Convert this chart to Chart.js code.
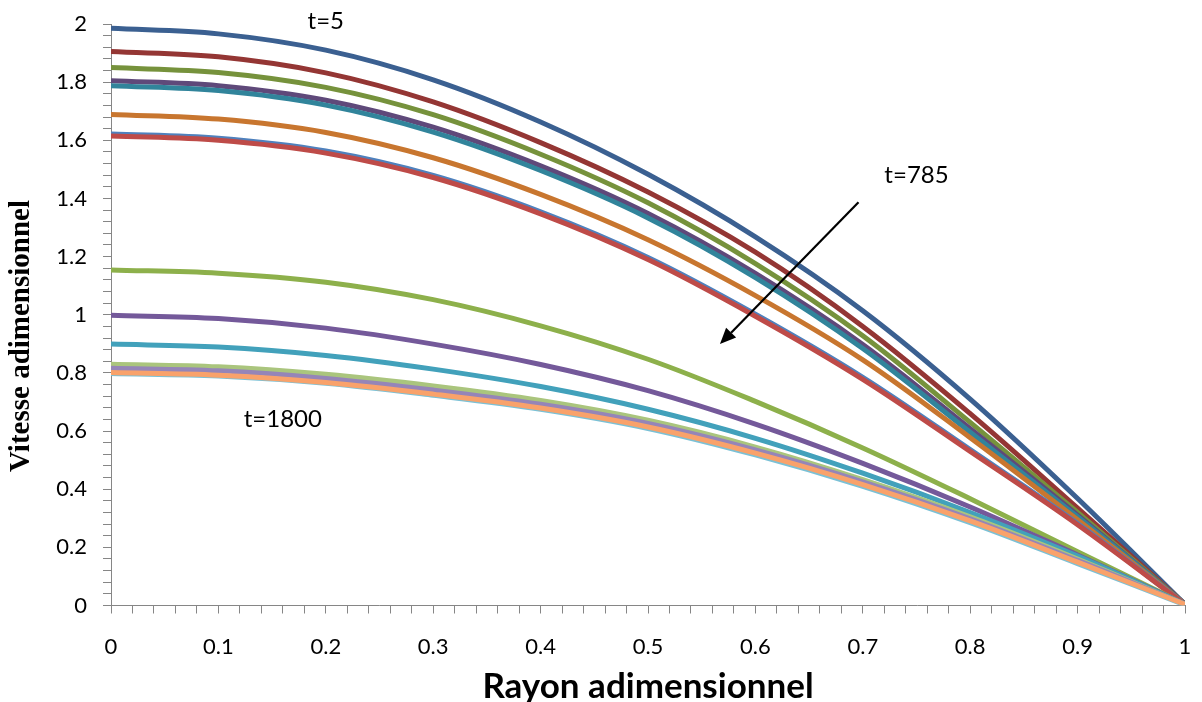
<!DOCTYPE html>
<html>
<head>
<meta charset="utf-8">
<script src="https://cdn.jsdelivr.net/npm/chart.js@4.4.0/dist/chart.umd.min.js"></script>
<style>
html,body{margin:0;padding:0;background:#fff;overflow:hidden}
#wrap{width:1202px;height:702px}
</style>
</head>
<body>
<div id="wrap"><canvas id="c" width="1202" height="702"></canvas></div>
<script>
// ---- data ----
const radius = [0, 0.1, 0.2, 0.3, 0.4, 0.5, 0.6, 0.7, 0.8, 0.9, 1];

const s01 = [1.985, 1.966, 1.910, 1.808, 1.663, 1.483, 1.268, 1.014, 0.710, 0.368, 0.004];
const s02 = [1.905, 1.887, 1.832, 1.732, 1.592, 1.422, 1.215, 0.960, 0.660, 0.335, 0.004];
const s03 = [1.850, 1.833, 1.782, 1.688, 1.552, 1.385, 1.176, 0.928, 0.630, 0.320, 0.004];
const s04 = [1.805, 1.788, 1.738, 1.645, 1.512, 1.348, 1.142, 0.898, 0.608, 0.311, 0.004];
const s05 = [1.788, 1.771, 1.721, 1.628, 1.496, 1.333, 1.128, 0.884, 0.596, 0.305, 0.004];
const s06 = [1.689, 1.673, 1.627, 1.540, 1.414, 1.258, 1.066, 0.845, 0.577, 0.295, 0.004];
const s07 = [1.622, 1.607, 1.563, 1.479, 1.354, 1.197, 1.002, 0.785, 0.536, 0.282, 0.004];
const s08 = [1.615, 1.600, 1.556, 1.472, 1.347, 1.190, 0.995, 0.778, 0.530, 0.278, 0.004];
const s09 = [1.154, 1.143, 1.112, 1.052, 0.962, 0.847, 0.702, 0.542, 0.367, 0.185, 0.004];
const s10 = [0.998, 0.987, 0.954, 0.899, 0.829, 0.739, 0.624, 0.489, 0.339, 0.174, 0.004];
const s11 = [0.899, 0.889, 0.860, 0.813, 0.753, 0.675, 0.575, 0.455, 0.320, 0.170, 0.004];
const s12 = [0.830, 0.821, 0.795, 0.755, 0.705, 0.637, 0.545, 0.433, 0.305, 0.160, 0.004];
const s13 = [0.816, 0.807, 0.781, 0.741, 0.692, 0.626, 0.535, 0.425, 0.298, 0.155, 0.004];
const s14 = [0.798, 0.789, 0.764, 0.723, 0.675, 0.609, 0.518, 0.410, 0.285, 0.144, 0.002];
const s15 = [0.801, 0.792, 0.767, 0.727, 0.679, 0.614, 0.524, 0.416, 0.291, 0.149, 0.004];

const seriesValues = [s01, s02, s03, s04, s05, s06, s07, s08, s09, s10, s11, s12, s13, s14, s15];
const seriesColors = ['#3B6091', '#943634', '#76923C', '#5F497A', '#31849B', '#C8762F', '#4F81BD', '#BE4B48',
                      '#8DB04B', '#74599A', '#42A1BB', '#AAC57D', '#9585B8', '#7BC1D6', '#F9A26B'];

const xTickLabels = ['0', '0.1', '0.2', '0.3', '0.4', '0.5', '0.6', '0.7', '0.8', '0.9', '1'];
const yTickLabels = ['0', '0.2', '0.4', '0.6', '0.8', '1', '1.2', '1.4', '1.6', '1.8', '2'];

const xTitle = 'Rayon adimensionnel';
const yTitle = 'Vitesse adimensionnel';

// annotations in data coordinates
const notes = [
  {text: 't=5',    x: 0.200, y: 2.010},
  {text: 't=785',  x: 0.750, y: 1.479},
  {text: 't=1800', x: 0.160, y: 0.640}
];
const arrowFrom = {x: 0.696, y: 1.387};
const arrowTo   = {x: 0.567, y: 0.899};

// ---- chart ----
const N = seriesValues.length;
const datasets = seriesValues.map((vals, i) => ({
  label: 'S' + (i + 1),
  data: radius.map((r, k) => ({x: r, y: vals[k]})),
  borderColor: seriesColors[i],
  backgroundColor: seriesColors[i],
  borderWidth: 5,
  pointRadius: 0,
  fill: false,
  tension: 0.35,
  order: N - i
}));

function majorLabel(v, step, labels) {
  const k = Math.round(v / step);
  if (Math.abs(v / step - k) < 1e-6 && k >= 0 && k < labels.length) return labels[k];
  return '';
}

const annot = {
  id: 'annot',
  afterDatasetsDraw(chart) {
    const {ctx, scales: {x, y}} = chart;
    ctx.save();
    ctx.fillStyle = '#000';
    ctx.font = '24px Lato';
    ctx.textAlign = 'center';
    ctx.textBaseline = 'middle';
    notes.forEach(n => ctx.fillText(n.text, x.getPixelForValue(n.x), y.getPixelForValue(n.y)));
    const x0 = x.getPixelForValue(arrowFrom.x), y0 = y.getPixelForValue(arrowFrom.y);
    const x1 = x.getPixelForValue(arrowTo.x), y1 = y.getPixelForValue(arrowTo.y);
    const ang = Math.atan2(y1 - y0, x1 - x0);
    const head = 16, hw = 7;
    const bx = x1 - head * Math.cos(ang), by = y1 - head * Math.sin(ang);
    ctx.strokeStyle = '#000';
    ctx.lineWidth = 2.2;
    ctx.beginPath();
    ctx.moveTo(x0, y0);
    ctx.lineTo(bx, by);
    ctx.stroke();
    ctx.beginPath();
    ctx.moveTo(x1, y1);
    ctx.lineTo(bx + hw * Math.sin(ang), by - hw * Math.cos(ang));
    ctx.lineTo(bx - hw * Math.sin(ang), by + hw * Math.cos(ang));
    ctx.closePath();
    ctx.fill();
    // y axis title (partly cut by the left edge, as in the reference)
    ctx.save();
    ctx.translate(29, 336);
    ctx.rotate(-Math.PI / 2);
    ctx.font = 'bold 29px "Liberation Serif"';
    ctx.textAlign = 'center';
    ctx.textBaseline = 'alphabetic';
    ctx.fillText(yTitle, 0, 0);
    ctx.restore();
    ctx.restore();
  }
};

new Chart(document.getElementById('c'), {
  type: 'line',
  data: {datasets},
  plugins: [annot],
  options: {
    responsive: false,
    animation: false,
    devicePixelRatio: 1,
    layout: {padding: {top: 24, right: 17, left: 0, bottom: 0}},
    plugins: {legend: {display: false}, tooltip: {enabled: false}},
    scales: {
      x: {
        type: 'linear',
        min: 0, max: 1,
        afterFit: s => { s.height = 96.5; s.paddingLeft = 0; s.paddingRight = 0; },
        border: {color: '#868686', width: 1},
        grid: {drawOnChartArea: false, drawTicks: true, tickLength: 8, color: '#868686'},
        ticks: {
          stepSize: 0.02, autoSkip: false, maxRotation: 0, padding: 20,
          color: '#000', font: {family: 'Lato', size: 22},
          callback: v => majorLabel(v, 0.1, xTickLabels)
        },
        title: {display: true, text: xTitle, color: '#000',
                font: {family: 'Lato', size: 35, weight: 'bold'}, padding: {top: 0, bottom: -6}}
      },
      y: {
        type: 'linear',
        min: 0, max: 2,
        afterFit: s => { s.width = 111; s.paddingTop = 0; s.paddingBottom = 0; },
        border: {color: '#868686', width: 1},
        grid: {drawOnChartArea: false, drawTicks: true, tickLength: 8, color: '#868686'},
        ticks: {
          stepSize: 0.04, autoSkip: false, padding: 16,
          color: '#000', font: {family: 'Lato', size: 22},
          callback: v => majorLabel(v, 0.2, yTickLabels)
        },
        title: {display: false, text: yTitle}
      }
    }
  }
});
</script>
</body>
</html>
